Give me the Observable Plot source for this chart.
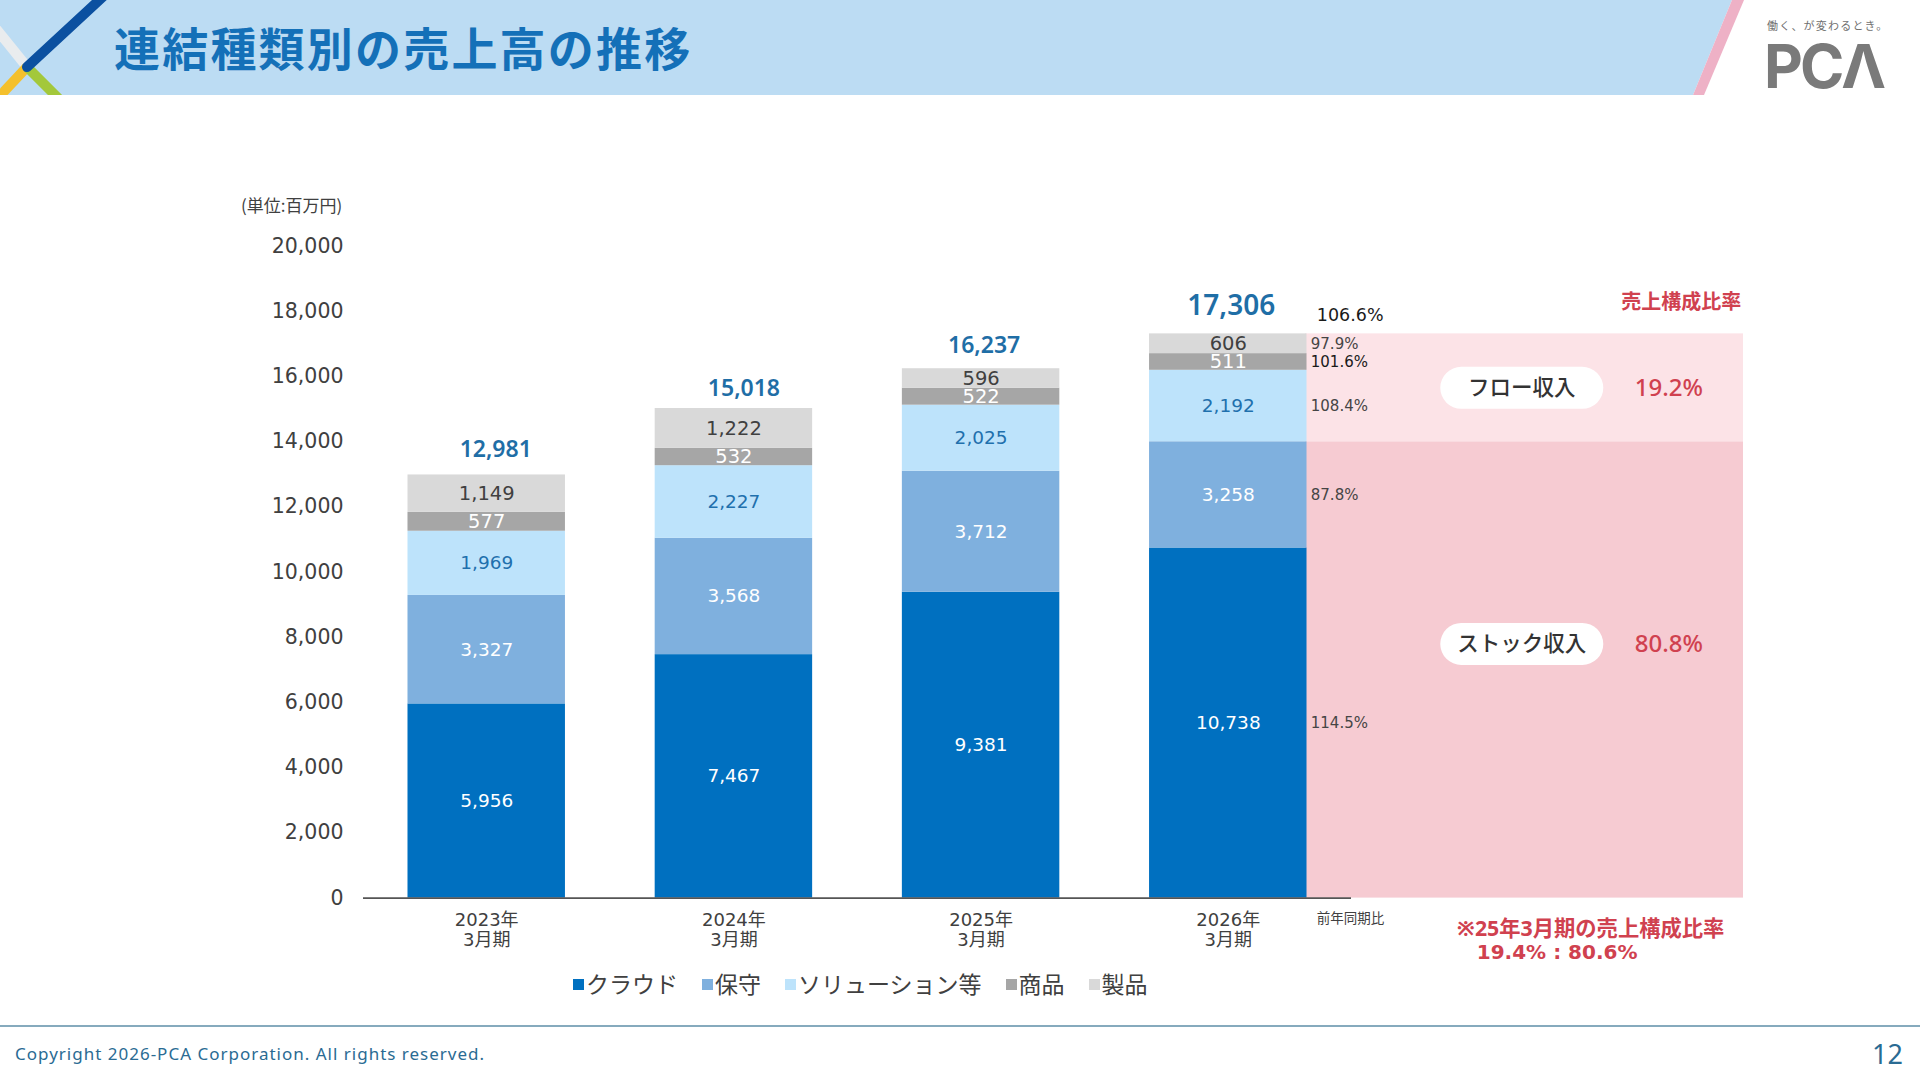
<!DOCTYPE html>
<html lang="ja">
<head>
<meta charset="utf-8">
<title>連結種類別の売上高の推移</title>
<script src="https://cdn.jsdelivr.net/npm/d3@7"></script>
<script src="https://cdn.jsdelivr.net/npm/@observablehq/plot@0.6"></script>
<style>
  html, body { margin: 0; padding: 0; background: #fff; }
  #page {
    position: relative; width: 1920px; height: 1080px; overflow: hidden; background: #fff;
    font-family: "Noto Sans", "Noto Sans CJK JP", sans-serif;
  }
  .abs { position: absolute; white-space: nowrap; }
  #title {
    left: 114px; top: 17px; font-size: 46px; font-weight: 700; color: #1470b8;
    font-family: "Noto Sans CJK JP", sans-serif; letter-spacing: 2.2px; line-height: 58px;
  }
  #tagline { left: 1767px; top: 17px; font-size: 11px; color: #6f6f6f; letter-spacing: 1.2px;
    font-family: "Noto Sans CJK JP", sans-serif; }
  #logo { left: 1764px; top: 30px; font-size: 60px; font-weight: 700; color: #7a7a7a;
    font-family: Inter, sans-serif; letter-spacing: -3px; line-height: 72px; }
  #unit { left: 241px; top: 192px; font-size: 17px; color: #404040;
    font-family: "Noto Sans CJK JP", sans-serif; }
  #chart { left: 0; top: 160px; }
  #legend { left: 573px; top: 966px; display: flex; gap: 24px; font-size: 23px; color: #404040;
    font-family: "Noto Sans CJK JP", sans-serif; }
  #legend .item { display: flex; align-items: center; gap: 2px; }
  #legend .sw { width: 11px; height: 11px; display: inline-block; margin-top: 3px; }
  #rule { left: 0; top: 1025px; width: 1920px; height: 2px; background: #86aabd; }
  #copy { left: 15px; top: 1042px; font-size: 17px; color: #2a6b93; letter-spacing: 1px; }
  #pageno { left: 1872px; top: 1035px; font-size: 27px; color: #2a6b93; }
</style>
</head>
<body>
<div id="page">
  <svg class="abs" style="left:0;top:0" width="1920" height="96">
    <defs><clipPath id="band"><rect x="0" y="0" width="1920" height="95"/></clipPath></defs>
    <polygon points="0,0 1732,0 1693,95 0,95" fill="#bcdcf3"/>
    <polygon points="1732,0 1744,0 1704,95 1693,95" fill="#eeb1c6"/>
    <g clip-path="url(#band)" stroke-width="10">
      <line x1="-6" y1="26" x2="27" y2="67" stroke="#e9ecee"/>
      <line x1="27" y1="67" x2="-4" y2="100" stroke="#f4c02c"/>
      <line x1="27" y1="67" x2="60" y2="100" stroke="#a3c83b"/>
      <line x1="108" y1="-8" x2="27" y2="67" stroke="#0b50a0" stroke-linecap="round"/>
    </g>
  </svg>
  <div id="title" class="abs">連結種類別の売上高の推移</div>
  <div id="tagline" class="abs">働く、が変わるとき。</div>
  <div id="logo" class="abs">PCΛ</div>
  <div id="unit" class="abs">(単位:百万円)</div>
  <div id="chart" class="abs"></div>
  <div id="legend" class="abs"></div>
  <div id="rule" class="abs"></div>
  <div id="copy" class="abs">Copyright 2026-PCA Corporation. All rights reserved.</div>
  <div id="pageno" class="abs">12</div>
</div>
<script>
// Fiscal periods (year ending March)
const years = ["2023年3月期", "2024年3月期", "2025年3月期", "2026年3月期"];

// Revenue by type, millions of yen (stacked bottom to top)
const series = ["クラウド", "保守", "ソリューション等", "商品", "製品"];
const cloud       = [5956, 7467, 9381, 10738];
const maintenance = [3327, 3568, 3712, 3258];
const solutions   = [1969, 2227, 2025, 2192];
const merchandise = [577, 532, 522, 511];
const products    = [1149, 1222, 596, 606];
const totals      = [12981, 15018, 16237, 17306];

// Year-on-year ratios for the latest period, per series and in total
const yoyRates = [114.5, 87.8, 108.4, 101.6, 97.9];
const totalYoy = 106.6;

// Revenue mix: flow (solutions, merchandise, products) vs stock (cloud, maintenance)
const flowShare = 19.2;
const stockShare = 80.8;
const prevMix = "19.4% : 80.6%";

const yTicks = [0, 2000, 4000, 6000, 8000, 10000, 12000, 14000, 16000, 18000, 20000];

const seriesColors = ["#0070c0", "#7fb0de", "#bde3fb", "#a6a6a6", "#d9d9d9"];
const labelColors  = ["#ffffff", "#ffffff", "#1f70ad", "#ffffff", "#404040"];
const labelSizes   = [18.5, 18.5, 18.5, 19.5, 19.5];
const red = "#d0414f";
const numFont = "'DejaVu Sans', 'Noto Sans CJK JP', sans-serif";
const jpFont = "'Noto Sans CJK JP', sans-serif";

// Layout constants (pixels)
const BAR_W = 157;
const PANEL_W = 437.5;
const totalShift = [[9, -25], [10, -20], [3, -23], [3, -28]]; // [dx, dy] of each total label
const totalSizes = [23, 23, 23, 28];

const values = [cloud, maintenance, solutions, merchandise, products];
const fmt = d3.format(",");

// Stack table
const rows = [];
years.forEach((year, i) => {
  let acc = 0;
  series.forEach((s, j) => {
    const v = values[j][i];
    rows.push({year, series: s, idx: j, value: v, y1: acc, y2: acc + v});
    acc += v;
  });
});

const last = years[years.length - 1];
const lastRows = rows.filter(r => r.year === last);
const stockTop = lastRows[1].y2;              // cloud + maintenance
const stackTop = lastRows[lastRows.length - 1].y2;

const panels = [
  {year: last, kind: "stock", y1: 0, y2: stockTop, fill: "#f6cbd2"},
  {year: last, kind: "flow", y1: stockTop, y2: stackTop, fill: "#fce3e7"}
];
const mixLabels = [
  {year: last, name: "フロー収入", share: flowShare, y: (stockTop + stackTop) / 2, dy: 0},
  {year: last, name: "ストック収入", share: stockShare, y: stockTop / 2, dy: -26}
];

// Rounded pill drawn around the mix labels
const pill = {
  draw(ctx) {
    const w = 163, h = 42, r = 21;
    ctx.moveTo(-w / 2 + r, -h / 2);
    ctx.lineTo(w / 2 - r, -h / 2);
    ctx.arc(w / 2 - r, 0, r, -Math.PI / 2, Math.PI / 2);
    ctx.lineTo(-w / 2 + r, h / 2);
    ctx.arc(-w / 2 + r, 0, r, Math.PI / 2, Math.PI * 1.5);
    ctx.closePath();
  }
};

const sideDx = BAR_W / 2 + 4;
const pillDx = 293.5;
const shareDx = 440.5;

const marks = [
  // Revenue-mix panels to the right of the latest bar
  Plot.barY(panels, {x: "year", y1: "y1", y2: "y2", fill: d => d.fill,
    insetLeft: BAR_W - 1, insetRight: -(PANEL_W - 1)}),
  // Stacked bars
  Plot.barY(rows, {x: "year", y1: "y1", y2: "y2", fill: "series"}),
  Plot.ruleY([0], {stroke: "#555", strokeWidth: 1.6}),
  Plot.axisY(yTicks, {tickSize: 0, tickPadding: 20, fontSize: 20.5, fill: "#404040",
    fontFamily: numFont, tickFormat: fmt, label: null}),
  Plot.axisX({tickSize: 0, tickPadding: 13, fontSize: 18, fill: "#404040", lineHeight: 1.15,
    fontFamily: numFont, tickFormat: d => d.replace("年", "年\n"), label: null}),
  // Segment values
  ...series.map((s, j) => Plot.text(rows.filter(r => r.idx === j), {
    x: "year", y: d => (d.y1 + d.y2) / 2, text: d => fmt(d.value),
    fill: labelColors[j], fontSize: labelSizes[j], fontFamily: numFont
  })),
  // Totals above bars
  ...years.map((year, i) => Plot.text([year], {x: d => d, y: () => totals[i], text: () => fmt(totals[i]),
    dx: totalShift[i][0], dy: totalShift[i][1], fill: "#1f6ea6", fontSize: totalSizes[i], fontWeight: 600})),
  // Year-on-year ratios
  Plot.text(lastRows, {x: "year", y: d => (d.y1 + d.y2) / 2, text: d => yoyRates[d.idx].toFixed(1) + "%",
    dx: sideDx, textAnchor: "start", fill: d => d.idx === 3 ? "#1a1a1a" : "#454545",
    fontSize: 15, fontFamily: numFont}),
  Plot.text([last], {x: d => d, y: () => totals[totals.length - 1], text: () => totalYoy.toFixed(1) + "%",
    dx: sideDx + 6, dy: -18, textAnchor: "start", fill: "#1a1a1a", fontSize: 17.5, fontFamily: numFont}),
  Plot.text([last], {x: d => d, y: () => 0, text: () => "前年同期比",
    dx: sideDx + 6, dy: 21, textAnchor: "start", fill: "#404040", fontSize: 13.5, fontFamily: jpFont}),
  // Revenue-mix annotations
  Plot.text([last], {x: d => d, y: () => stackTop, text: () => "売上構成比率",
    dx: BAR_W / 2 + PANEL_W - 3, dy: -31, textAnchor: "end", fill: red, fontSize: 20,
    fontWeight: 700, fontFamily: jpFont}),
  ...mixLabels.map(m => Plot.dot([m], {x: "year", y: "y", dx: pillDx, dy: m.dy,
    symbol: pill, fill: "white", r: 5})),
  ...mixLabels.map(m => Plot.text([m], {x: "year", y: "y", dx: pillDx, dy: m.dy, text: "name",
    fill: "#333", fontSize: 21.5, fontWeight: 500, fontFamily: jpFont})),
  ...mixLabels.map(m => Plot.text([m], {x: "year", y: "y", dx: shareDx, dy: m.dy,
    text: d => d.share.toFixed(1) + "%", fill: red, fontSize: 24, fontWeight: 500})),
  Plot.text([last], {x: d => d, y: () => 0, text: () => "※25年3月期の売上構成比率",
    dx: 228.5, dy: 31, textAnchor: "start", fill: red, fontSize: 21.3, fontWeight: 700,
    fontFamily: "'Noto Sans', 'Noto Sans CJK JP', sans-serif"}),
  Plot.text([last], {x: d => d, y: () => 0, text: () => prevMix,
    dx: 248.5, dy: 54, textAnchor: "start", fill: red, fontSize: 20, fontWeight: 700,
    fontFamily: "'DejaVu Sans', sans-serif"})
];

const chart = Plot.plot({
  width: 1920,
  height: 820,
  marginLeft: 363,
  marginRight: 569,
  marginTop: 85.5,
  marginBottom: 82.4,
  style: {fontFamily: "'Noto Sans', 'Noto Sans CJK JP', sans-serif", color: "#404040", background: "transparent", overflow: "visible"},
  x: {domain: years, paddingInner: 0.363, paddingOuter: 0.18, round: false},
  y: {domain: [0, 20000]},
  color: {domain: series, range: seriesColors},
  marks
});
document.getElementById("chart").appendChild(chart);

// Legend
const legend = document.getElementById("legend");
series.forEach((s, j) => {
  const item = document.createElement("div");
  item.className = "item";
  const sw = document.createElement("span");
  sw.className = "sw";
  sw.style.background = seriesColors[j];
  const label = document.createElement("span");
  label.textContent = s;
  item.append(sw, label);
  legend.appendChild(item);
});
</script>
</body>
</html>
